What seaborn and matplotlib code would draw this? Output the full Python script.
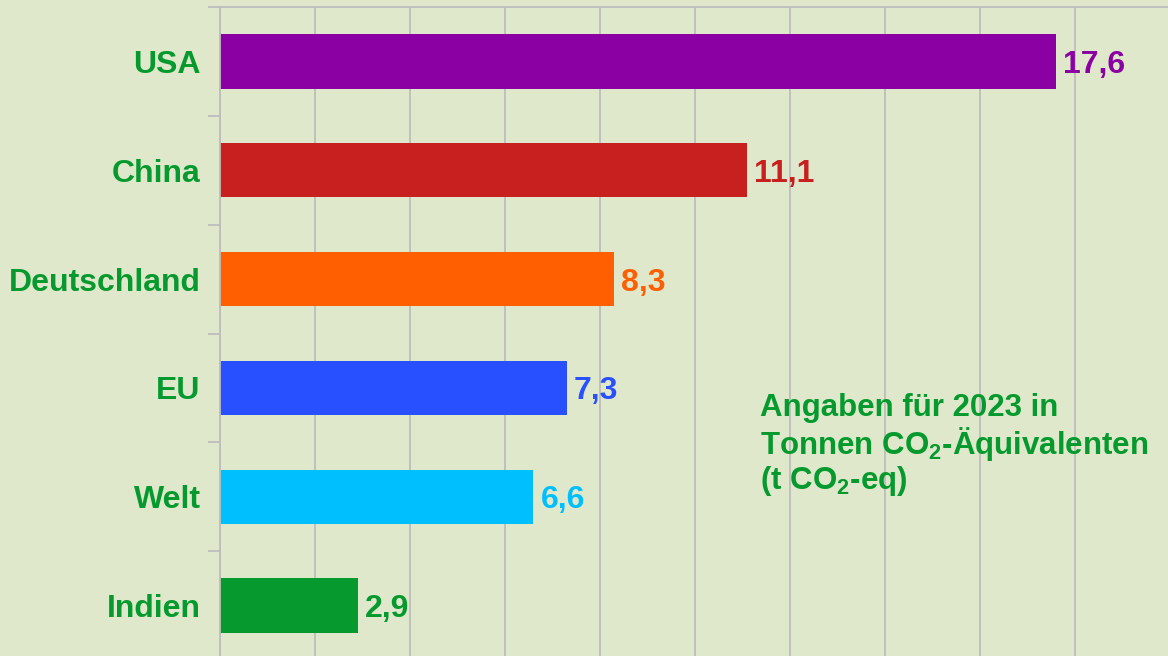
import numpy as np
import pandas as pd
import seaborn as sns
import matplotlib.pyplot as plt
from matplotlib.ticker import FixedLocator, MultipleLocator

# Daten: Pro-Kopf-Emissionen 2023
laender = ["USA", "China", "Deutschland", "EU", "Welt", "Indien"]
werte = [17.6, 11.1, 8.3, 7.3, 6.6, 2.9]
farben = ["#8B00A3", "#C8201E", "#FF5F00", "#2850FF", "#00BFFF", "#069A2E"]
wert_labels = ["17,6", "11,1", "8,3", "7,3", "6,6", "2,9"]

hintergrund = "#DFE8CB"
gruen = "#069A2E"
grau = "#BDBDBD"

sns.set_theme(style="white")
plt.rcParams['font.family'] = ['Liberation Sans', 'DejaVu Sans']
plt.rcParams['mathtext.fontset'] = 'custom'
plt.rcParams['mathtext.rm'] = 'Liberation Sans:bold'
plt.rcParams['mathtext.it'] = 'Liberation Sans:bold'
plt.rcParams['mathtext.bf'] = 'Liberation Sans:bold'

df = pd.DataFrame({"land": laender, "wert": werte})

fig = plt.figure(figsize=(11.68, 6.56), dpi=100, facecolor=hintergrund)
ax = fig.add_axes([220 / 1168, 1 - 660 / 656, 1 - 220 / 1168, 653 / 656])
ax.set_facecolor(hintergrund)

sns.barplot(data=df, y="land", x="wert", hue="land", palette=farben,
            orient="h", width=0.5, legend=False, ax=ax, saturation=1,
            linewidth=0)

ax.set_xlim(0, 19.96)
ax.set_ylim(5.5, -0.5)
ax.set_xlabel("")
ax.set_ylabel("")

# vertikale Gitterlinien
ax.xaxis.set_major_locator(MultipleLocator(2))
ax.grid(axis="x", color=grau, linewidth=1.3)
ax.set_axisbelow(True)
ax.tick_params(axis="x", length=0, labelbottom=False)

# Kategorien-Beschriftung
ax.tick_params(axis="y", which="major", length=0, pad=14,
               labelsize=23, labelcolor=gruen)
for lbl in ax.get_yticklabels():
    lbl.set_fontweight("bold")
ax.yaxis.set_minor_locator(FixedLocator(np.arange(-0.5, 6, 1)))
ax.tick_params(axis="y", which="minor", length=9, width=1.3,
               color=grau, left=True)

for s in ["right", "bottom"]:
    ax.spines[s].set_visible(False)
for s in ["left", "top"]:
    ax.spines[s].set_color(grau)
    ax.spines[s].set_linewidth(1.3)

# Werte an den Balken
for i, (w, txt, c) in enumerate(zip(werte, wert_labels, farben)):
    ax.text(w + 0.15, i, txt, va="center_baseline", ha="left", fontsize=23,
            fontweight="bold", color=c)

ax.text(11.37, 3.53,
        "Angaben für 2023 in\nTonnen CO$_2$-Äquivalenten\n(t CO$_2$-eq)",
        va="center", ha="left", fontsize=22.5, fontweight="bold",
        color=gruen, linespacing=1.05)

fig.savefig("out.png", dpi=100, facecolor=hintergrund)
